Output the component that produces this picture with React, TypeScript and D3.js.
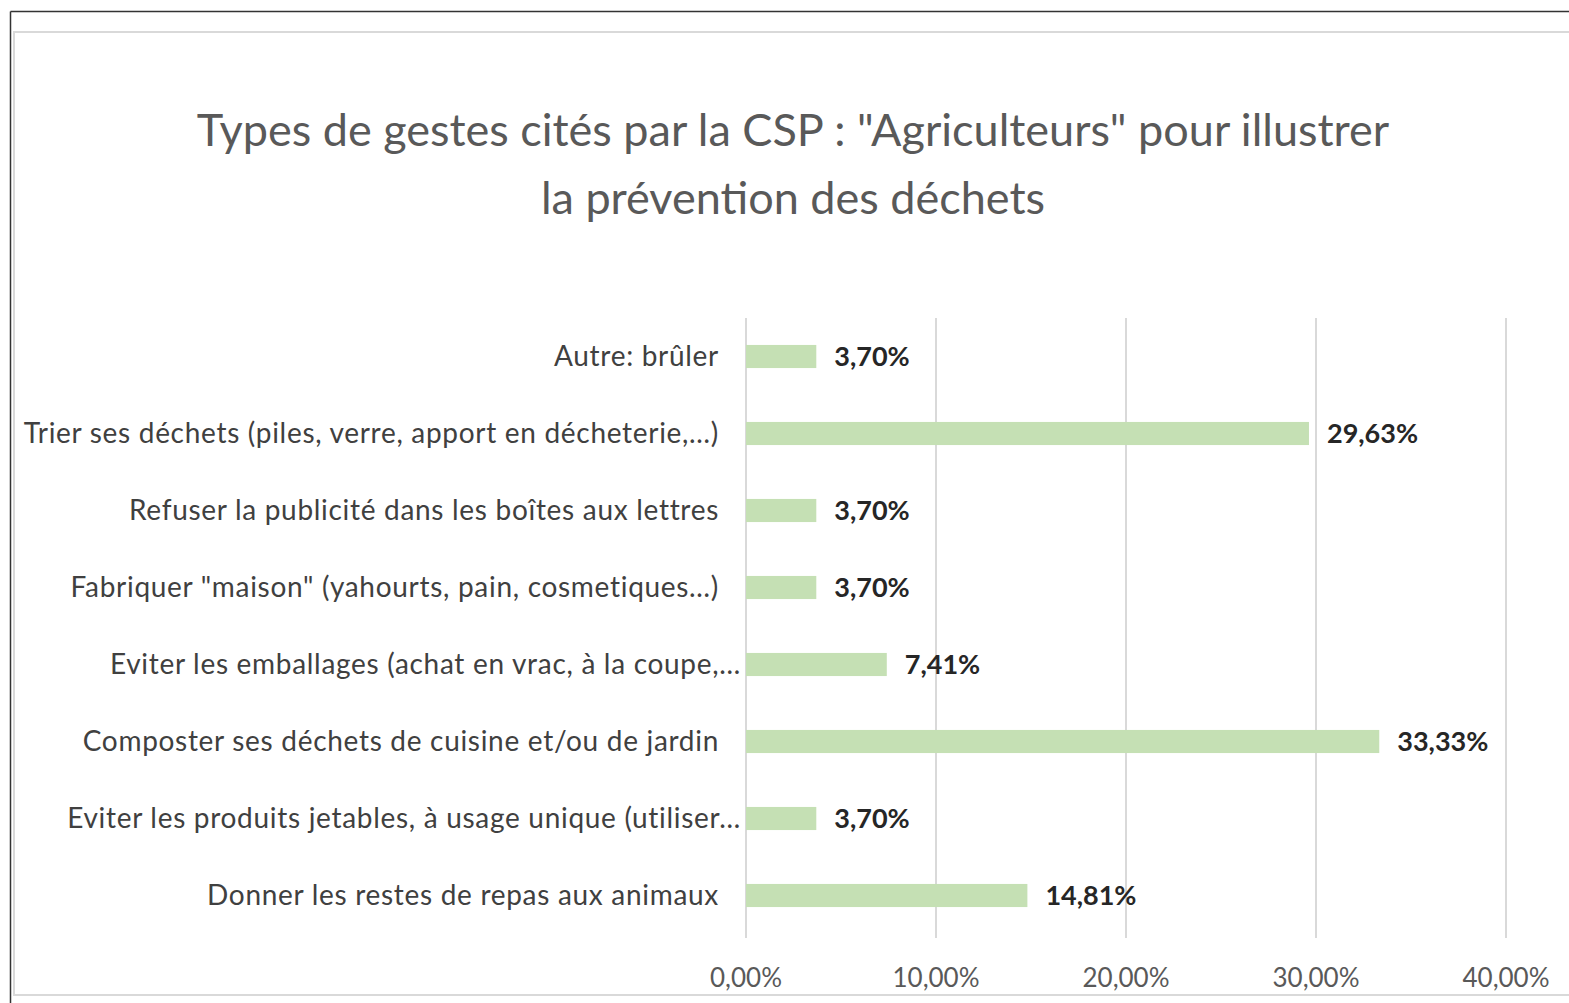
import React from "react";
import * as d3 from "d3";

const categories: string[] = [
  "Autre: brûler",
  "Trier ses déchets (piles, verre, apport en décheterie,…)",
  "Refuser la publicité dans les boîtes aux lettres",
  "Fabriquer \"maison\" (yahourts, pain, cosmetiques…)",
  "Eviter les emballages (achat en vrac, à la coupe,…",
  "Composter ses déchets de cuisine et/ou de jardin",
  "Eviter les produits jetables, à usage unique (utiliser…",
  "Donner les restes de repas aux animaux",
];
const values: number[] = [3.7, 29.63, 3.7, 3.7, 7.41, 33.33, 3.7, 14.81];
const valueLabels: string[] = ["3,70%", "29,63%", "3,70%", "3,70%", "7,41%", "33,33%", "3,70%", "14,81%"];
const ticks: number[] = [0, 10, 20, 30, 40];
const tickLabels: string[] = ["0,00%", "10,00%", "20,00%", "30,00%", "40,00%"];
const titleLines: string[] = [
  "Types de gestes cités par la CSP : \"Agriculteurs\" pour illustrer",
  "la prévention des déchets",
];

const W = 1569;
const H = 1003;
const FONT = "Lato, 'Liberation Sans', sans-serif";

export default function App() {
  const x = d3.scaleLinear().domain([0, 40]).range([746, 1506]);
  const y = d3
    .scaleBand<string>()
    .domain(categories)
    .range([318, 934])
    .paddingInner(0.7)
    .paddingOuter(0.35);
  const bandTop = 318;
  const bandBottom = 934;

  return (
    <div style={{ position: "absolute", left: 0, top: 0 }}>
      <svg width={W} height={H} style={{ display: "block", background: "#fff" }}>
        <rect x={0} y={0} width={W} height={H} fill="#fff" />
        {/* outer dark frame */}
        <line x1={10.5} y1={11.5} x2={W} y2={11.5} stroke="#333" strokeWidth={1.5} />
        <line x1={10.5} y1={11.5} x2={10.5} y2={H} stroke="#333" strokeWidth={1.5} />
        {/* inner light frame */}
        <rect x={14} y={32} width={W} height={963} fill="none" stroke="#d9d9d9" strokeWidth={2} />

        {/* title */}
        {titleLines.map((t, i) => (
          <text
            key={i}
            x={793}
            y={146 + i * 68}
            textAnchor="middle"
            fontFamily={FONT}
            fontSize={45}
            fill="#595959"
          >
            {t}
          </text>
        ))}

        {/* gridlines */}
        {ticks.map((t) => (
          <line
            key={t}
            x1={x(t)}
            x2={x(t)}
            y1={bandTop}
            y2={bandBottom + 4}
            stroke="#d9d9d9"
            strokeWidth={2}
          />
        ))}

        {/* bars */}
        {categories.map((c, i) => {
          const yc = (y(c) as number) + y.bandwidth() / 2;
          const truncated = c.endsWith("…");
          return (
            <g key={c}>
              <rect
                x={x(0)}
                y={y(c)}
                width={x(values[i]) - x(0)}
                height={y.bandwidth()}
                fill="#c5e0b4"
              />
              <text
                x={x(values[i]) + 18}
                y={yc}
                dy="0.35em"
                fontFamily={FONT}
                fontWeight="bold"
                fontSize={27}
                fill="#262626"
              >
                {valueLabels[i]}
              </text>
              <text
                x={truncated ? 741 : 719}
                y={yc}
                dy="0.35em"
                textAnchor="end"
                fontFamily={FONT}
                fontSize={28}
                letterSpacing={0.7}
                fill="#404040"
              >
                {c}
              </text>
            </g>
          );
        })}

        {/* x axis labels */}
        {ticks.map((t, i) => (
          <text
            key={t}
            x={x(t)}
            y={978}
            dy="0.35em"
            textAnchor="middle"
            fontFamily={FONT}
            fontSize={26}
            fill="#595959"
          >
            {tickLabels[i]}
          </text>
        ))}
      </svg>
    </div>
  );
}
